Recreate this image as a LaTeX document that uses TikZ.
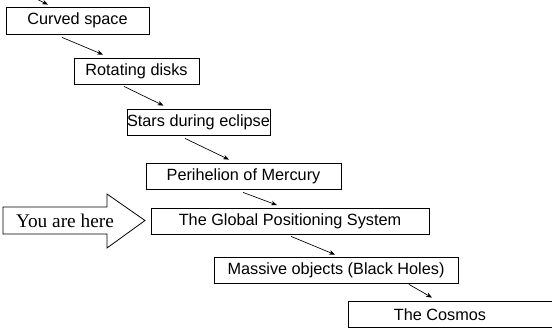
\documentclass[tikz,border=0pt]{standalone}
\usepackage{fontspec}
\setmainfont{Liberation Sans}
\newfontfamily\timesfont{Liberation Serif}
\usetikzlibrary{calc,arrows.meta}
\begin{document}
\begin{tikzpicture}[x=0.75pt,y=-0.75pt,
  stepbox/.style={draw,line width=0.6pt,inner sep=0pt,minimum height=26*0.75pt,
    font=\fontsize{12.2}{14}\selectfont},
  conn/.style={line width=0.5pt,-{Stealth[length=4.5pt,width=3.5pt]}}]
\useasboundingbox (0,0) rectangle (552,328);
\node[stepbox,minimum width=143*0.75pt,minimum height=27*0.75pt] (b1) at (77.5,20.5) {Curved space};
\node[stepbox,minimum width=125*0.75pt] (b2) at (136.5,71) {Rotating disks};
\node[stepbox,minimum width=137*0.75pt] (b3) at (198.5,122) {Stars during eclipse};
\node[stepbox,minimum width=195*0.75pt] (b4) at (243.5,176) {Perihelion of Mercury};
\node[stepbox,minimum width=278*0.75pt] (b5) at (290,221) {The Global Positioning System};
\node[stepbox,minimum width=244*0.75pt] (b6) at (336,270) {Massive objects (Black Holes)};
\node[stepbox,minimum width=208*0.75pt] (b7) at (452,314.5) {\hspace*{-18pt}The Cosmos};
\coordinate (prev) at (22,-8);
\draw[conn] (prev) -- ($(b1.north)+(-29.5,-2)$);
\draw[conn] ($(b1.south)+(-15.5,3)$) -- ($(b2.north)+(-33.5,-3)$);
\draw[conn] ($(b2.south)+(-12.5,2)$) -- ($(b3.north)+(-35,-3)$);
\draw[conn] ($(b3.south)+(-13.5,3)$) -- ($(b4.north)+(-14.5,-3)$);
\draw[conn] ($(b4.south)+(-0.5,3)$) -- ($(b5.north)+(-13,-2.5)$);
\draw[conn] ($(b5.south)+(1,2)$) -- ($(b6.north)+(-1,-2)$);
\draw[conn] ($(b6.south)+(73,1)$) -- ($(b7.north)+(-20,-3.5)$);
\draw[line width=0.6pt] (3,207) -- (107,207) -- (107,194) -- (145,220.5) -- (107,248) -- (107,234) -- (3,234) -- cycle;
\node[font=\timesfont\fontsize{14.5}{16}\selectfont,inner sep=0pt] (here) at (65,220.5) {You are here};
\end{tikzpicture}
\end{document}
